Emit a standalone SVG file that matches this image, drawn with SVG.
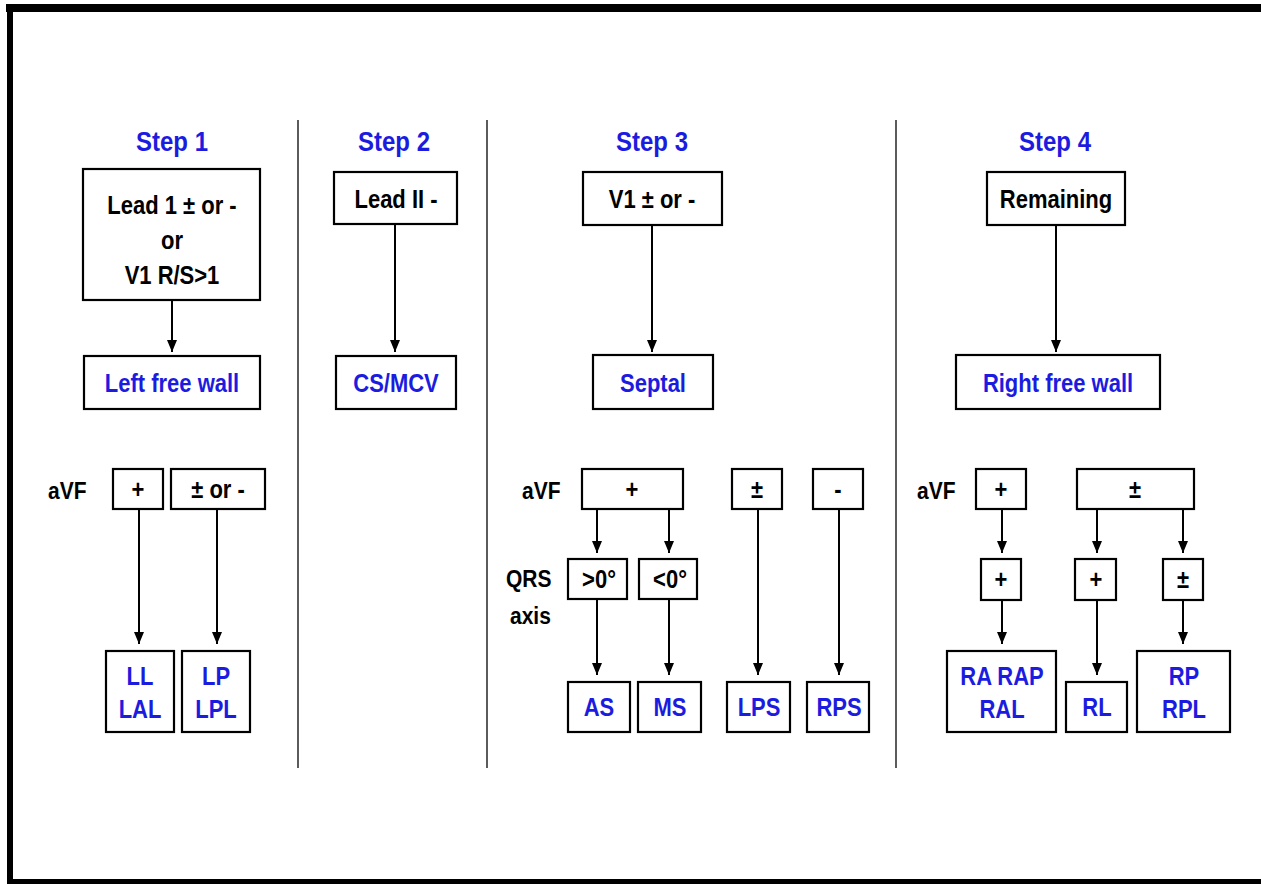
<svg xmlns="http://www.w3.org/2000/svg" width="1261" height="884" viewBox="0 0 1261 884">
<defs>
<marker id="ah" markerWidth="12" markerHeight="10" refX="12" refY="5" orient="auto" markerUnits="userSpaceOnUse" viewBox="0 0 12 10">
<path d="M0,0 L12,5 L0,10 Z" fill="#000"/>
</marker>
<style>
.box{fill:#fff;stroke:#000;stroke-width:2.2}
.t{font-family:"Liberation Sans",Arial,sans-serif;font-weight:bold;font-size:22px;fill:#000;text-anchor:middle}
.b{fill:#1c1ce0}
.title{font-size:24px;fill:#1c1ce0}
.lbl{font-size:21px;text-anchor:start}
.c{stroke:#000;stroke-width:2;fill:none}
.div{stroke:#333;stroke-width:1.6}
</style>
</defs>
<rect width="1261" height="884" fill="#fff"/>
<g id="frame">
<rect x="6" y="4" width="1255" height="8" fill="#000"/>
<rect x="7" y="4" width="6" height="880" fill="#000"/>
<rect x="7" y="879" width="1254" height="5" fill="#000"/>
</g>
<g id="dividers">
<line class="div" x1="298" y1="120" x2="298" y2="768"/>
<line class="div" x1="487" y1="120" x2="487" y2="768"/>
<line class="div" x1="896" y1="120" x2="896" y2="768"/>
</g>
<g id="titles">
<text class="t title" transform="translate(172,151) scale(1,1.15)">Step 1</text>
<text class="t title" transform="translate(394,151) scale(1,1.15)">Step 2</text>
<text class="t title" transform="translate(652,151) scale(1,1.15)">Step 3</text>
<text class="t title" transform="translate(1055,151) scale(1,1.15)">Step 4</text>
</g>
<g id="labels">
<text class="t lbl" transform="translate(48,499) scale(1,1.15)">aVF</text>
<text class="t lbl" transform="translate(522,499) scale(1,1.15)">aVF</text>
<text class="t lbl" transform="translate(506,587) scale(1,1.15)">QRS</text>
<text class="t lbl" transform="translate(510,624) scale(1,1.15)">axis</text>
<text class="t lbl" transform="translate(917,499) scale(1,1.15)">aVF</text>
</g>
<g id="connectors">
<line class="c" x1="172" y1="300" x2="172" y2="352" marker-end="url(#ah)"/>
<line class="c" x1="395" y1="224" x2="395" y2="352" marker-end="url(#ah)"/>
<line class="c" x1="652" y1="225" x2="652" y2="352" marker-end="url(#ah)"/>
<line class="c" x1="1056" y1="225" x2="1056" y2="352" marker-end="url(#ah)"/>
<line class="c" x1="139" y1="509" x2="139" y2="644" marker-end="url(#ah)"/>
<line class="c" x1="217" y1="509" x2="217" y2="644" marker-end="url(#ah)"/>
<line class="c" x1="597" y1="509" x2="597" y2="553" marker-end="url(#ah)"/>
<line class="c" x1="669" y1="509" x2="669" y2="553" marker-end="url(#ah)"/>
<line class="c" x1="597" y1="599" x2="597" y2="675" marker-end="url(#ah)"/>
<line class="c" x1="669" y1="599" x2="669" y2="675" marker-end="url(#ah)"/>
<line class="c" x1="758" y1="509" x2="758" y2="675" marker-end="url(#ah)"/>
<line class="c" x1="839" y1="509" x2="839" y2="675" marker-end="url(#ah)"/>
<line class="c" x1="1002" y1="509" x2="1002" y2="553" marker-end="url(#ah)"/>
<line class="c" x1="1097" y1="509" x2="1097" y2="553" marker-end="url(#ah)"/>
<line class="c" x1="1183" y1="509" x2="1183" y2="553" marker-end="url(#ah)"/>
<line class="c" x1="1002" y1="600" x2="1002" y2="644" marker-end="url(#ah)"/>
<line class="c" x1="1097" y1="600" x2="1097" y2="675" marker-end="url(#ah)"/>
<line class="c" x1="1183" y1="600" x2="1183" y2="644" marker-end="url(#ah)"/>
</g>
<g id="n-lead1"><rect class="box" x="83" y="169" width="177" height="131"/>
<text class="t" transform="translate(172,214) scale(1,1.15)">Lead 1 ± or -</text><text class="t" transform="translate(172,249) scale(1,1.15)">or</text><text class="t" transform="translate(172,284) scale(1,1.15)">V1 R/S&gt;1</text></g>
<g id="n-leftfree"><rect class="box" x="84" y="356" width="176" height="53"/><text class="t b" transform="translate(172,392) scale(1,1.15)">Left free wall</text></g>
<g id="n-lead2"><rect class="box" x="334" y="172" width="123" height="52"/><text class="t" transform="translate(396,208) scale(1,1.15)">Lead II -</text></g>
<g id="n-csmcv"><rect class="box" x="336" y="356" width="120" height="53"/><text class="t b" transform="translate(396,392) scale(1,1.15)">CS/MCV</text></g>
<g id="n-v1"><rect class="box" x="583" y="172" width="139" height="53"/><text class="t" transform="translate(652,208) scale(1,1.15)">V1 ± or -</text></g>
<g id="n-septal"><rect class="box" x="593" y="355" width="120" height="54"/><text class="t b" transform="translate(653,392) scale(1,1.15)">Septal</text></g>
<g id="n-remaining"><rect class="box" x="987" y="172" width="138" height="53"/><text class="t" transform="translate(1056,208) scale(1,1.15)">Remaining</text></g>
<g id="n-rightfree"><rect class="box" x="956" y="355" width="204" height="54"/><text class="t b" transform="translate(1058,392) scale(1,1.15)">Right free wall</text></g>
<g id="n-s1plus"><rect class="box" x="113" y="469" width="50" height="40"/><text class="t" transform="translate(138,498) scale(1,1.15)">+</text></g>
<g id="n-s1pm"><rect class="box" x="171" y="469" width="94" height="40"/><text class="t" transform="translate(218,498) scale(1,1.15)">± or -</text></g>
<g id="n-ll"><rect class="box" x="106" y="651" width="68" height="81"/><text class="t b" transform="translate(140,685) scale(1,1.15)">LL</text><text class="t b" transform="translate(140,718) scale(1,1.15)">LAL</text></g>
<g id="n-lp"><rect class="box" x="182" y="651" width="68" height="81"/><text class="t b" transform="translate(216,685) scale(1,1.15)">LP</text><text class="t b" transform="translate(216,718) scale(1,1.15)">LPL</text></g>
<g id="n-s3plus"><rect class="box" x="582" y="469" width="101" height="40"/><text class="t" transform="translate(632,498) scale(1,1.15)">+</text></g>
<g id="n-s3pm"><rect class="box" x="732" y="469" width="50" height="40"/><text class="t" transform="translate(757,498) scale(1,1.15)">±</text></g>
<g id="n-s3minus"><rect class="box" x="813" y="469" width="50" height="40"/><text class="t" transform="translate(838,498) scale(1,1.15)">-</text></g>
<g id="n-gt0"><rect class="box" x="568" y="559" width="59" height="40"/><text class="t" transform="translate(599,588) scale(1,1.15)">&gt;0°</text></g>
<g id="n-lt0"><rect class="box" x="639" y="559" width="58" height="40"/><text class="t" transform="translate(670,588) scale(1,1.15)">&lt;0°</text></g>
<g id="n-as"><rect class="box" x="568" y="682" width="62" height="50"/><text class="t b" transform="translate(599,716) scale(1,1.15)">AS</text></g>
<g id="n-ms"><rect class="box" x="638" y="682" width="63" height="50"/><text class="t b" transform="translate(670,716) scale(1,1.15)">MS</text></g>
<g id="n-lps"><rect class="box" x="727" y="682" width="63" height="50"/><text class="t b" transform="translate(759,716) scale(1,1.15)">LPS</text></g>
<g id="n-rps"><rect class="box" x="807" y="682" width="62" height="50"/><text class="t b" transform="translate(839,716) scale(1,1.15)">RPS</text></g>
<g id="n-s4plus"><rect class="box" x="976" y="469" width="50" height="40"/><text class="t" transform="translate(1001,498) scale(1,1.15)">+</text></g>
<g id="n-s4pm"><rect class="box" x="1077" y="469" width="117" height="40"/><text class="t" transform="translate(1135,498) scale(1,1.15)">±</text></g>
<g id="n-s4p2"><rect class="box" x="981" y="559" width="40" height="41"/><text class="t" transform="translate(1001,588) scale(1,1.15)">+</text></g>
<g id="n-s4p3"><rect class="box" x="1075" y="559" width="41" height="41"/><text class="t" transform="translate(1096,588) scale(1,1.15)">+</text></g>
<g id="n-s4pm2"><rect class="box" x="1163" y="559" width="40" height="41"/><text class="t" transform="translate(1183,588) scale(1,1.15)">±</text></g>
<g id="n-ra"><rect class="box" x="947" y="651" width="109" height="81"/><text class="t b" transform="translate(1002,685) scale(1,1.15)">RA RAP</text><text class="t b" transform="translate(1002,718) scale(1,1.15)">RAL</text></g>
<g id="n-rl"><rect class="box" x="1066" y="682" width="61" height="50"/><text class="t b" transform="translate(1097,716) scale(1,1.15)">RL</text></g>
<g id="n-rp"><rect class="box" x="1137" y="651" width="93" height="81"/><text class="t b" transform="translate(1184,685) scale(1,1.15)">RP</text><text class="t b" transform="translate(1184,718) scale(1,1.15)">RPL</text></g>
</svg>
